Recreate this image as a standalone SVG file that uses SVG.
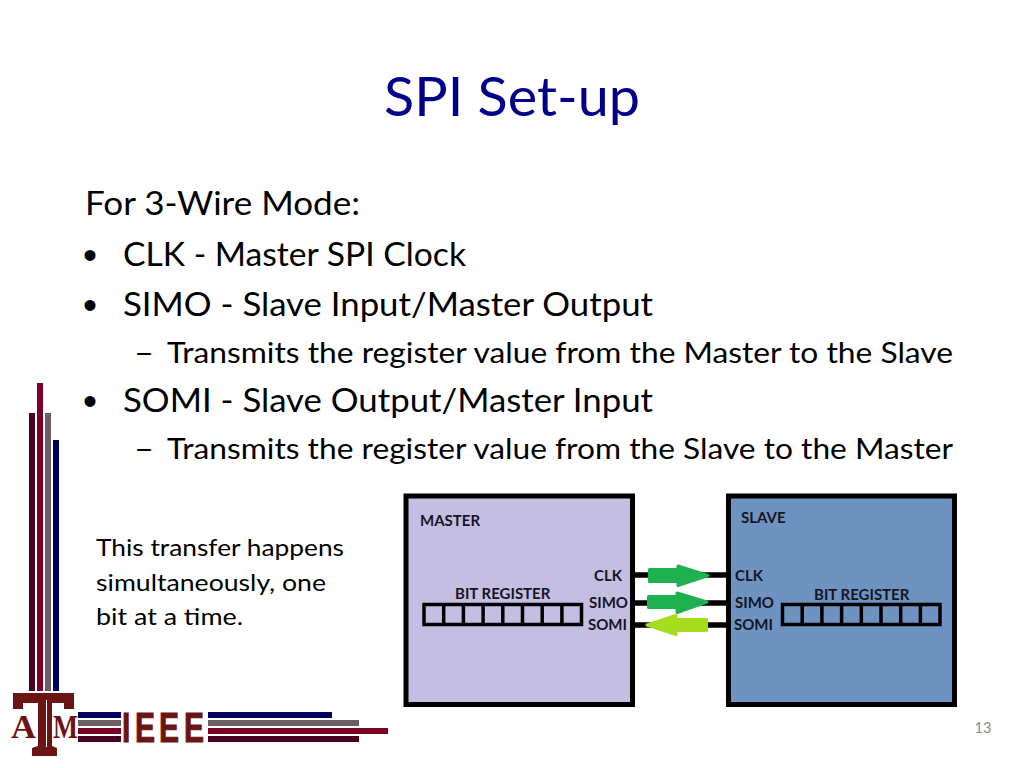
<svg xmlns="http://www.w3.org/2000/svg" width="1024" height="768" viewBox="0 0 1024 768">
<style>
text{font-family:Lato,"Open Sans","Noto Sans",sans-serif;fill:#000}
.b1{font-size:32px}
.b2{font-size:28px}
.note{font-size:24px}
.dot{font-family:"Liberation Sans",sans-serif;font-size:40px}
.lab{font-size:15px;font-weight:700;fill:#15151f}
.box{stroke:#000;stroke-width:5}
.reg{fill:none;stroke:#000;stroke-width:3.5}
.wire{stroke:#000;stroke-width:5.5;fill:none}
.ga{fill:#1fb050;stroke:#1fb050;stroke-width:3;stroke-linejoin:round}
.la{fill:#a6dc1e;stroke:#a6dc1e;stroke-width:3;stroke-linejoin:round}
.navy{fill:#00005e}.grey{fill:#6b5f63}.crim{fill:#7a0026}.dark{fill:#4a0024}
.maroon{fill:#6b1414}
.serif{font-family:"Liberation Serif",serif;font-size:33px;font-weight:700;fill:#6b1414;stroke:#fff;stroke-width:1.500px;paint-order:stroke}
</style>
<rect width="1024" height="768" fill="#fff"/>
<text x="384" y="116" textLength="256" lengthAdjust="spacingAndGlyphs" style="font-size:54px;fill:#00008b">SPI Set-up</text>
<g id="body-text">
<text class="b1" x="85" y="215" textLength="275" lengthAdjust="spacingAndGlyphs">For 3-Wire Mode:</text>
<text class="dot" x="83" y="269">•</text>
<text class="b1" x="123" y="266" textLength="343" lengthAdjust="spacingAndGlyphs">CLK - Master SPI Clock</text>
<text class="dot" x="83" y="319">•</text>
<text class="b1" x="123" y="316" textLength="530" lengthAdjust="spacingAndGlyphs">SIMO - Slave Input/Master Output</text>
<text class="b2" x="134" y="363" textLength="20" lengthAdjust="spacingAndGlyphs">–</text>
<text class="b2" x="167" y="363" textLength="786" lengthAdjust="spacingAndGlyphs">Transmits the register value from the Master to the Slave</text>
<text class="dot" x="83" y="415">•</text>
<text class="b1" x="123" y="412" textLength="530" lengthAdjust="spacingAndGlyphs">SOMI - Slave Output/Master Input</text>
<text class="b2" x="134" y="459" textLength="20" lengthAdjust="spacingAndGlyphs">–</text>
<text class="b2" x="167" y="459" textLength="786" lengthAdjust="spacingAndGlyphs">Transmits the register value from the Slave to the Master</text>
</g>
<g id="note">
<text class="note" x="96" y="556" textLength="248" lengthAdjust="spacingAndGlyphs">This transfer happens</text>
<text class="note" x="96" y="591" textLength="230" lengthAdjust="spacingAndGlyphs">simultaneously, one</text>
<text class="note" x="96" y="625" textLength="147" lengthAdjust="spacingAndGlyphs">bit at a time.</text>
</g>
<g id="decor-bars">
<rect class="dark" x="29" y="413" width="6" height="278"/>
<rect class="crim" x="37" y="383" width="6" height="308"/>
<rect class="grey" x="45" y="413" width="6" height="278"/>
<rect class="navy" x="53" y="440" width="6" height="251"/>
</g>
<g id="logo">
<path class="maroon" d="M13 693H74V709H64V703H52V746L57 748V756H32V748L38 746V703H23V709H13Z"/>
<path d="M46.500 700V747" stroke="#fff" stroke-width="1" fill="none"/>
<text class="serif" x="11" y="738" textLength="25" lengthAdjust="spacingAndGlyphs">A</text>
<text class="serif" x="53" y="738" textLength="25" lengthAdjust="spacingAndGlyphs">M</text>
<rect class="navy" x="78" y="712" width="43" height="6"/>
<rect class="grey" x="78" y="720" width="43" height="6"/>
<rect class="crim" x="78" y="728" width="43" height="6"/>
<rect class="dark" x="78" y="736" width="43" height="6"/>
<text transform="translate(123 742) scale(.72 1)" x="-1.500 16.500 49.900 84.600" y="0" style="font-family:'Liberation Sans',sans-serif;font-size:41.700px;font-weight:700;fill:#6b1414;stroke:#6b1414;stroke-width:1">IEEE</text>
<rect class="navy" x="208" y="712" width="124" height="6"/>
<rect class="grey" x="208" y="720" width="151" height="6"/>
<rect class="crim" x="208" y="728" width="180" height="6"/>
<rect class="dark" x="208" y="736" width="151" height="6"/>
</g>
<g id="connectors">
<path class="wire" d="M635 575H726M635 603H726M635 625H726"/>
<path class="ga" d="M649.500 569.500H678V566L708 575.500L678 585.500V581.500H649.500Z"/>
<path class="ga" d="M648.500 596.500H677V593L707 602L677 612.500V607.500H648.500Z"/>
<path class="la" d="M647 625L676 615.500V619.500H706.500V630.500H676V634.500Z"/>
</g>
<g id="master">
<rect class="box" x="406" y="496" width="226.500" height="208.500" fill="#c5bee3"/>
<text class="lab" x="420" y="526">MASTER</text>
<text class="lab" x="455" y="599">BIT REGISTER</text>
<text class="lab" x="594" y="581">CLK</text>
<text class="lab" x="589" y="608">SIMO</text>
<text class="lab" x="588" y="630">SOMI</text>
<path class="reg" d="M424 604.500H581.500V624.500H424ZM443.700 604.500V624.500M463.400 604.500V624.500M483.100 604.500V624.500M502.800 604.500V624.500M522.500 604.500V624.500M542.200 604.500V624.500M561.900 604.500V624.500"/>
</g>
<g id="slave">
<rect class="box" x="728.500" y="496" width="226" height="208.500" fill="#6e93c1"/>
<text class="lab" x="741" y="523">SLAVE</text>
<text class="lab" x="814" y="600">BIT REGISTER</text>
<text class="lab" x="735" y="581">CLK</text>
<text class="lab" x="735" y="608">SIMO</text>
<text class="lab" x="734" y="630">SOMI</text>
<path class="reg" d="M782.500 604.500H940V624.500H782.500ZM802.200 604.500V624.500M821.900 604.500V624.500M841.600 604.500V624.500M861.300 604.500V624.500M881 604.500V624.500M900.700 604.500V624.500M920.400 604.500V624.500"/>
</g>
<text x="983" y="733" text-anchor="middle" style="font-size:14.500px;fill:#8a8a8a">13</text>
</svg>
